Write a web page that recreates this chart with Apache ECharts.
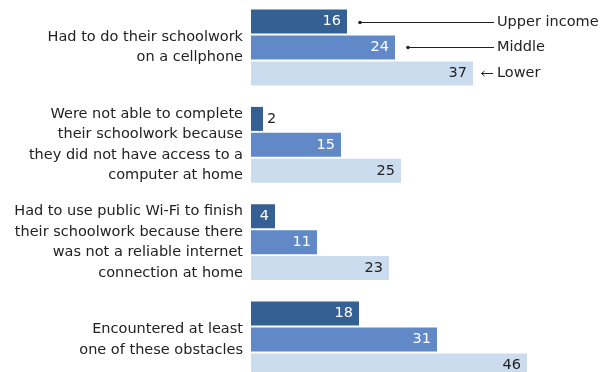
<!DOCTYPE html>
<html>
<head>
<meta charset="utf-8">
<script src="https://cdn.jsdelivr.net/npm/echarts@6/dist/echarts.min.js"></script>
<style>html,body{margin:0;padding:0;background:#fff;}#c{width:603px;height:372px;}</style>
</head>
<body>
<div id="c"></div>
<script>
const categories = [
  "Had to do their schoolwork\non a cellphone",
  "Were not able to complete\ntheir schoolwork because\nthey did not have access to a\ncomputer at home",
  "Had to use public Wi-Fi to finish\ntheir schoolwork because there\nwas not a reliable internet\nconnection at home",
  "Encountered at least\none of these obstacles"
];
const seriesNames = ["Upper income", "Middle", "Lower"];
const upperValues = [16, 2, 4, 18];
const middleValues = [24, 15, 11, 31];
const lowerValues = [37, 25, 23, 46];

const FONT = "DejaVu Sans";
const FS = 14.5;
const colors = ["#346094", "#6189c7", "#cbdcef"];
const labelColors = ["#ffffff", "#ffffff", "#222222"];
const allValues = [upperValues, middleValues, lowerValues];

const chart = echarts.init(document.getElementById('c'), null, {renderer: 'canvas'});

function makeSeries(i) {
  return {
    name: seriesNames[i],
    type: 'bar',
    barWidth: 24,
    barGap: '8%',
    itemStyle: {color: colors[i]},
    label: {
      show: true,
      position: 'insideRight',
      distance: 6,
      color: labelColors[i],
      fontFamily: FONT,
      fontSize: FS
    },
    data: allValues[i].map(v => {
      if (v * 6 < 20) {
        return {value: v, label: {position: 'right', distance: 4, color: '#222'}};
      }
      return v;
    }),
    animation: false
  };
}

chart.setOption({
  animation: false,
  grid: {left: 251, right: 0, top: -1.2, height: 389.4, containLabel: false, outerBoundsMode: 'none'},
  xAxis: {type: 'value', min: 0, max: 58.67, show: false},
  yAxis: {
    type: 'category',
    inverse: true,
    data: categories,
    axisLine: {show: false},
    axisTick: {show: false},
    axisLabel: {
      margin: 8,
      align: 'right',
      color: '#222',
      fontFamily: FONT,
      fontSize: FS,
      lineHeight: 20.5
    }
  },
  series: [makeSeries(0), makeSeries(1), makeSeries(2)]
});

// Callout legend attached to the first category's bars
const textX = 497;
const lineEnd = 494;
const graphics = [];
for (let i = 0; i < 3; i++) {
  const lay = chart.getModel().getSeriesByIndex(i).getData().getItemLayout(0);
  const end = lay.x + lay.width;
  const cy = Math.round(lay.y + lay.height / 2) + 0.5;
  graphics.push({
    type: 'text', left: textX, top: cy - 10,
    style: {text: seriesNames[i], fill: '#222', font: FS + 'px "' + FONT + '"', textVerticalAlign: 'top', lineHeight: 20},
    silent: true
  });
  if (i < 2) {
    const sx = end + 13;
    graphics.push({type: 'line', shape: {x1: sx, y1: cy, x2: lineEnd, y2: cy}, style: {stroke: '#222', lineWidth: 1}, silent: true});
    graphics.push({type: 'circle', shape: {cx: sx, cy: cy, r: 1.8}, style: {fill: '#222'}, silent: true});
  } else {
    const sx = end + 8.5;
    graphics.push({type: 'line', shape: {x1: sx, y1: cy, x2: lineEnd - 1, y2: cy}, style: {stroke: '#222', lineWidth: 1}, silent: true});
    graphics.push({type: 'polyline', shape: {points: [[sx + 3, cy - 2.5], [sx, cy], [sx + 3, cy + 2.5]]}, style: {stroke: '#222', lineWidth: 1, fill: null}, silent: true});
  }
}
chart.setOption({graphic: graphics});
</script>
</body>
</html>
